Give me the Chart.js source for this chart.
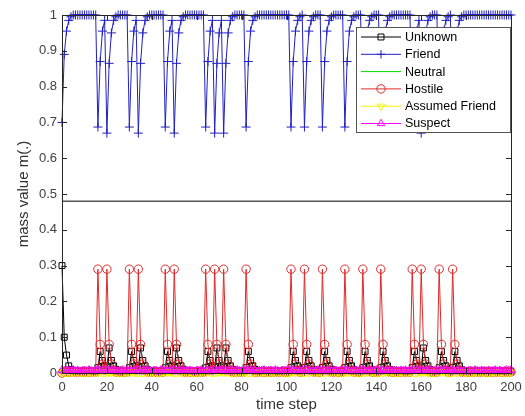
<!DOCTYPE html>
<html>
<head>
<meta charset="utf-8">
<script src="https://cdn.jsdelivr.net/npm/chart.js@4.4.0/dist/chart.umd.min.js"></script>
<style>
  html, body { margin: 0; padding: 0; background: #fff; }
  #wrap { width: 525px; height: 416px; }
</style>
</head>
<body>
<div id="wrap"><canvas id="chart" width="525" height="416"></canvas></div>
<script>
// time steps 0..200
const timeSteps = Array.from({ length: 201 }, (_, i) => i);

const unknown = [
  0.3, 0.1, 0.05, 0.02, 0.01, 0.005, 0.005, 0.005, 0.005, 0.005,
  0.005, 0.005, 0.005, 0.005, 0.005, 0.005, 0.015, 0.06, 0.035, 0.02,
  0.015, 0.07, 0.035, 0.02, 0.01, 0.005, 0.005, 0.005, 0.005, 0.005,
  0.015, 0.06, 0.035, 0.02, 0.015, 0.07, 0.035, 0.02, 0.01, 0.005,
  0.005, 0.005, 0.005, 0.005, 0.005, 0.005, 0.015, 0.06, 0.035, 0.02,
  0.015, 0.07, 0.035, 0.02, 0.01, 0.005, 0.005, 0.005, 0.005, 0.005,
  0.005, 0.005, 0.005, 0.005, 0.015, 0.06, 0.035, 0.02, 0.015, 0.07,
  0.035, 0.02, 0.015, 0.07, 0.035, 0.02, 0.01, 0.005, 0.005, 0.005,
  0.005, 0.005, 0.015, 0.06, 0.035, 0.02, 0.01, 0.005, 0.005, 0.005,
  0.005, 0.005, 0.005, 0.005, 0.005, 0.005, 0.005, 0.005, 0.005, 0.005,
  0.005, 0.005, 0.015, 0.06, 0.035, 0.02, 0.01, 0.005, 0.015, 0.06,
  0.035, 0.02, 0.01, 0.005, 0.005, 0.005, 0.015, 0.06, 0.035, 0.02,
  0.01, 0.005, 0.005, 0.005, 0.005, 0.005, 0.015, 0.06, 0.035, 0.02,
  0.01, 0.005, 0.005, 0.005, 0.015, 0.06, 0.035, 0.02, 0.01, 0.005,
  0.005, 0.005, 0.015, 0.06, 0.035, 0.02, 0.01, 0.005, 0.005, 0.005,
  0.005, 0.005, 0.005, 0.005, 0.005, 0.005, 0.015, 0.06, 0.035, 0.02,
  0.015, 0.07, 0.035, 0.02, 0.01, 0.005, 0.005, 0.005, 0.015, 0.06,
  0.035, 0.02, 0.01, 0.005, 0.015, 0.06, 0.035, 0.02, 0.01, 0.005,
  0.005, 0.005, 0.005, 0.005, 0.005, 0.005, 0.005, 0.005, 0.005, 0.005,
  0.005, 0.005, 0.005, 0.005, 0.005, 0.005, 0.005, 0.005, 0.005, 0.005,
  0.005
];

const friend = [
  0.70, 0.89, 0.955, 0.985, 0.995, 1, 1, 1, 1, 1,
  1, 1, 1, 1, 1, 1, 0.687, 0.87, 0.955, 0.985,
  0.67, 0.865, 0.95, 0.985, 0.995, 1, 1, 1, 1, 1,
  0.687, 0.87, 0.955, 0.985, 0.67, 0.865, 0.95, 0.985, 0.995, 1,
  1, 1, 1, 1, 1, 1, 0.687, 0.87, 0.955, 0.985,
  0.67, 0.865, 0.95, 0.985, 0.995, 1, 1, 1, 1, 1,
  1, 1, 1, 1, 0.687, 0.87, 0.955, 0.985, 0.67, 0.865,
  0.95, 0.985, 0.67, 0.865, 0.95, 0.985, 0.995, 1, 1, 1,
  1, 1, 0.687, 0.87, 0.955, 0.985, 0.995, 1, 1, 1,
  1, 1, 1, 1, 1, 1, 1, 1, 1, 1,
  1, 1, 0.687, 0.87, 0.955, 0.985, 0.995, 1, 0.687, 0.87,
  0.955, 0.985, 0.995, 1, 1, 1, 0.687, 0.87, 0.955, 0.985,
  0.995, 1, 1, 1, 1, 1, 0.687, 0.87, 0.955, 0.985,
  0.995, 1, 1, 1, 0.687, 0.87, 0.955, 0.985, 0.995, 1,
  1, 1, 0.687, 0.87, 0.955, 0.985, 0.995, 1, 1, 1,
  1, 1, 1, 1, 1, 1, 0.687, 0.87, 0.955, 0.985,
  0.67, 0.865, 0.95, 0.985, 0.995, 1, 1, 1, 0.687, 0.87,
  0.955, 0.985, 0.995, 1, 0.687, 0.87, 0.955, 0.985, 0.995, 1,
  1, 1, 1, 1, 1, 1, 1, 1, 1, 1,
  1, 1, 1, 1, 1, 1, 1, 1, 1, 1,
  1
];

const neutral = [
  0, 0, 0, 0, 0, 0, 0, 0, 0, 0,  0, 0, 0, 0, 0, 0, 0, 0, 0, 0,
  0, 0, 0, 0, 0, 0, 0, 0, 0, 0,  0, 0, 0, 0, 0, 0, 0, 0, 0, 0,
  0, 0, 0, 0, 0, 0, 0, 0, 0, 0,  0, 0, 0, 0, 0, 0, 0, 0, 0, 0,
  0, 0, 0, 0, 0, 0, 0, 0, 0, 0,  0, 0, 0, 0, 0, 0, 0, 0, 0, 0,
  0, 0, 0, 0, 0, 0, 0, 0, 0, 0,  0, 0, 0, 0, 0, 0, 0, 0, 0, 0,
  0, 0, 0, 0, 0, 0, 0, 0, 0, 0,  0, 0, 0, 0, 0, 0, 0, 0, 0, 0,
  0, 0, 0, 0, 0, 0, 0, 0, 0, 0,  0, 0, 0, 0, 0, 0, 0, 0, 0, 0,
  0, 0, 0, 0, 0, 0, 0, 0, 0, 0,  0, 0, 0, 0, 0, 0, 0, 0, 0, 0,
  0, 0, 0, 0, 0, 0, 0, 0, 0, 0,  0, 0, 0, 0, 0, 0, 0, 0, 0, 0,
  0, 0, 0, 0, 0, 0, 0, 0, 0, 0,  0, 0, 0, 0, 0, 0, 0, 0, 0, 0,
  0
];

const hostile = [
  0, 0.003, 0.003, 0.003, 0.003, 0.003, 0.003, 0.003, 0.003, 0.003,
  0.003, 0.003, 0.003, 0.003, 0.003, 0.003, 0.29, 0.08, 0.025, 0.008,
  0.29, 0.08, 0.025, 0.008, 0.003, 0.003, 0.003, 0.003, 0.003, 0.003,
  0.29, 0.08, 0.025, 0.008, 0.29, 0.08, 0.025, 0.008, 0.003, 0.003,
  0.003, 0.003, 0.003, 0.003, 0.003, 0.003, 0.29, 0.08, 0.025, 0.008,
  0.29, 0.08, 0.025, 0.008, 0.003, 0.003, 0.003, 0.003, 0.003, 0.003,
  0.003, 0.003, 0.003, 0.003, 0.29, 0.08, 0.025, 0.008, 0.29, 0.08,
  0.025, 0.008, 0.29, 0.08, 0.025, 0.008, 0.003, 0.003, 0.003, 0.003,
  0.003, 0.003, 0.29, 0.08, 0.025, 0.008, 0.003, 0.003, 0.003, 0.003,
  0.003, 0.003, 0.003, 0.003, 0.003, 0.003, 0.003, 0.003, 0.003, 0.003,
  0.003, 0.003, 0.29, 0.08, 0.025, 0.008, 0.003, 0.003, 0.29, 0.08,
  0.025, 0.008, 0.003, 0.003, 0.003, 0.003, 0.29, 0.08, 0.025, 0.008,
  0.003, 0.003, 0.003, 0.003, 0.003, 0.003, 0.29, 0.08, 0.025, 0.008,
  0.003, 0.003, 0.003, 0.003, 0.29, 0.08, 0.025, 0.008, 0.003, 0.003,
  0.003, 0.003, 0.29, 0.08, 0.025, 0.008, 0.003, 0.003, 0.003, 0.003,
  0.003, 0.003, 0.003, 0.003, 0.003, 0.003, 0.29, 0.08, 0.025, 0.008,
  0.29, 0.08, 0.025, 0.008, 0.003, 0.003, 0.003, 0.003, 0.29, 0.08,
  0.025, 0.008, 0.003, 0.003, 0.29, 0.08, 0.025, 0.008, 0.003, 0.003,
  0.003, 0.003, 0.003, 0.003, 0.003, 0.003, 0.003, 0.003, 0.003, 0.003,
  0.003, 0.003, 0.003, 0.003, 0.003, 0.003, 0.003, 0.003, 0.003, 0.003,
  0.003
];

const assumedFriend = [
  0.001, 0.002, 0.001, 0.003, 0.002, 0.001, 0.002, 0.003, 0.001, 0.002,
  0.002, 0.001, 0.003, 0.002, 0.001, 0.002, 0.001, 0.003, 0.002, 0.001,
  0.003, 0.002, 0.001, 0.002, 0.003, 0.001, 0.002, 0.001, 0.003, 0.002,
  0.001, 0.003, 0.002, 0.001, 0.002, 0.003, 0.001, 0.002, 0.002, 0.001,
  0.002, 0.001, 0.003, 0.001, 0.002, 0.003, 0.002, 0.001, 0.003, 0.002,
  0.001, 0.002, 0.003, 0.002, 0.001, 0.002, 0.001, 0.003, 0.002, 0.001,
  0.003, 0.001, 0.002, 0.002, 0.001, 0.003, 0.002, 0.001, 0.002, 0.003,
  0.002, 0.003, 0.001, 0.002, 0.003, 0.001, 0.002, 0.002, 0.001, 0.003,
  0.001, 0.002, 0.003, 0.001, 0.002, 0.001, 0.003, 0.002, 0.001, 0.002,
  0.003, 0.002, 0.001, 0.003, 0.002, 0.001, 0.002, 0.003, 0.001, 0.002,
  0.002, 0.001, 0.002, 0.003, 0.001, 0.002, 0.003, 0.002, 0.001, 0.003,
  0.001, 0.003, 0.002, 0.001, 0.002, 0.003, 0.001, 0.002, 0.003, 0.001,
  0.002, 0.002, 0.001, 0.003, 0.002, 0.001, 0.003, 0.002, 0.001, 0.002,
  0.003, 0.001, 0.002, 0.002, 0.003, 0.001, 0.002, 0.001, 0.003, 0.002,
  0.001, 0.002, 0.003, 0.001, 0.002, 0.002, 0.001, 0.003, 0.002, 0.001,
  0.002, 0.003, 0.001, 0.002, 0.001, 0.003, 0.002, 0.001, 0.002, 0.003,
  0.001, 0.002, 0.002, 0.003, 0.001, 0.002, 0.001, 0.003, 0.002, 0.002,
  0.003, 0.001, 0.002, 0.001, 0.003, 0.002, 0.001, 0.002, 0.003, 0.001,
  0.002, 0.003, 0.001, 0.002, 0.002, 0.001, 0.003, 0.002, 0.001, 0.003,
  0.001, 0.002, 0.003, 0.002, 0.001, 0.002, 0.003, 0.001, 0.002, 0.001,
  0.002
];

const suspect = [
  0.008, 0.006, 0.007, 0.005, 0.006, 0.008, 0.005, 0.007, 0.004, 0.006,
  0.007, 0.005, 0.008, 0.006, 0.004, 0.007, 0.009, 0.006, 0.005, 0.007,
  0.006, 0.008, 0.005, 0.007, 0.006, 0.004, 0.007, 0.008, 0.005, 0.006,
  0.007, 0.005, 0.006, 0.008, 0.007, 0.005, 0.004, 0.006, 0.008, 0.006,
  0.005, 0.007, 0.006, 0.004, 0.008, 0.006, 0.007, 0.005, 0.006, 0.008,
  0.006, 0.004, 0.007, 0.006, 0.005, 0.008, 0.006, 0.007, 0.005, 0.004,
  0.007, 0.006, 0.008, 0.005, 0.006, 0.007, 0.004, 0.006, 0.008, 0.005,
  0.006, 0.008, 0.005, 0.007, 0.004, 0.006, 0.007, 0.005, 0.008, 0.006,
  0.005, 0.007, 0.006, 0.008, 0.006, 0.005, 0.007, 0.004, 0.006, 0.007,
  0.008, 0.005, 0.006, 0.007, 0.005, 0.008, 0.006, 0.004, 0.007, 0.006,
  0.006, 0.007, 0.005, 0.008, 0.006, 0.004, 0.007, 0.006, 0.005, 0.008,
  0.007, 0.004, 0.006, 0.007, 0.008, 0.005, 0.006, 0.007, 0.004, 0.006,
  0.005, 0.008, 0.007, 0.005, 0.006, 0.007, 0.005, 0.008, 0.006, 0.004,
  0.006, 0.007, 0.005, 0.006, 0.008, 0.006, 0.004, 0.007, 0.005, 0.007,
  0.008, 0.006, 0.004, 0.007, 0.005, 0.006, 0.008, 0.005, 0.007, 0.006,
  0.005, 0.007, 0.006, 0.008, 0.004, 0.007, 0.006, 0.005, 0.008, 0.006,
  0.007, 0.005, 0.008, 0.006, 0.007, 0.005, 0.006, 0.004, 0.007, 0.008,
  0.006, 0.008, 0.005, 0.007, 0.006, 0.004, 0.007, 0.006, 0.005, 0.007,
  0.004, 0.006, 0.007, 0.005, 0.008, 0.006, 0.005, 0.007, 0.006, 0.005,
  0.007, 0.005, 0.006, 0.008, 0.005, 0.007, 0.004, 0.006, 0.008, 0.006,
  0.008
];

// the flat black line across the plot
const refLineSteps = [0, 200];
const refLine = [0.48, 0.48];

const xTicks = [0, 20, 40, 60, 80, 100, 120, 140, 160, 180, 200];
const yTicks = [0, 0.1, 0.2, 0.3, 0.4, 0.5, 0.6, 0.7, 0.8, 0.9, 1];

const FONT = '"Liberation Sans", Arial, Helvetica, sans-serif';

function toPoints(xs, ys) {
    return ys.map((v, i) => ({ x: xs[i], y: v }));
}

const series = [
    { label: 'Unknown', data: unknown, color: '#000000', marker: 'rect', radius: 4.2, rotation: 0, order: 6 },
    { label: 'Friend', data: friend, color: '#2020c4', marker: 'cross', radius: 4.5, rotation: 0, order: 5 },
    { label: 'Neutral', data: neutral, color: '#00dd00', marker: false, radius: 0, rotation: 0, order: 4 },
    { label: 'Hostile', data: hostile, color: '#e02a2a', marker: 'circle', radius: 4.2, rotation: 0, order: 3 },
    { label: 'Assumed Friend', data: assumedFriend, color: '#f2f200', marker: 'triangle', radius: 4.5, rotation: 180, order: 2 },
    { label: 'Suspect', data: suspect, color: '#ff00ff', marker: 'triangle', radius: 4.5, rotation: 0, order: 1 },
];

const datasets = series.map((s) => ({
    label: s.label,
    data: toPoints(timeSteps, s.data),
    borderColor: s.color,
    borderWidth: 1,
    backgroundColor: 'rgba(0,0,0,0)',
    pointStyle: s.marker,
    pointRadius: s.radius,
    pointRotation: s.rotation,
    pointBorderColor: s.color,
    pointBackgroundColor: 'rgba(0,0,0,0)',
    pointBorderWidth: 1,
    tension: 0,
    clip: false,
    order: s.order,
}));

datasets.push({
    label: '_ref',
    data: toPoints(refLineSteps, refLine),
    borderColor: '#000000',
    borderWidth: 1,
    pointRadius: 0,
    clip: false,
    order: 7,
});

// matlab-like box, inward ticks and legend inside the axes
const boxPlugin = {
    id: 'matlabBox',
    afterDraw(chart) {
        const { ctx, chartArea: a, scales } = chart;
        const tl = 5;
        ctx.save();
        ctx.strokeStyle = '#262626';
        ctx.lineWidth = 1;
        ctx.beginPath();
        ctx.rect(Math.round(a.left) + 0.5, Math.round(a.top) + 0.5,
                 Math.round(a.right - a.left), Math.round(a.bottom - a.top));
        ctx.stroke();

        ctx.beginPath();
        xTicks.forEach((v) => {
            const x = Math.round(scales.x.getPixelForValue(v)) + 0.5;
            ctx.moveTo(x, a.bottom); ctx.lineTo(x, a.bottom - tl);
            ctx.moveTo(x, a.top); ctx.lineTo(x, a.top + tl);
        });
        yTicks.forEach((v) => {
            const y = Math.round(scales.y.getPixelForValue(v)) + 0.5;
            ctx.moveTo(a.left, y); ctx.lineTo(a.left + tl, y);
            ctx.moveTo(a.right, y); ctx.lineTo(a.right - tl, y);
        });
        ctx.stroke();

        // legend
        const lx = 356, ly = 27, lw = 154, lh = 105;
        ctx.fillStyle = '#ffffff';
        ctx.fillRect(lx, ly, lw, lh);
        ctx.strokeStyle = '#555555';
        ctx.strokeRect(lx + 0.5, ly + 0.5, lw, lh);
        ctx.font = '12.5px ' + FONT;
        ctx.textBaseline = 'middle';
        ctx.textAlign = 'left';
        series.forEach((s, i) => {
            const y = ly + 10 + i * 17.3;
            const x0 = lx + 5, x1 = lx + 45, xm = (x0 + x1) / 2;
            const r = Math.min(s.radius, 4.2);
            ctx.strokeStyle = s.color;
            ctx.lineWidth = 1;
            ctx.beginPath();
            ctx.moveTo(x0, y); ctx.lineTo(x1, y);
            ctx.stroke();
            ctx.beginPath();
            if (s.marker === 'rect') {
                const h = r * Math.SQRT1_2;
                ctx.rect(xm - h, y - h, 2 * h, 2 * h);
            } else if (s.marker === 'cross') {
                ctx.moveTo(xm - r, y); ctx.lineTo(xm + r, y);
                ctx.moveTo(xm, y - r); ctx.lineTo(xm, y + r);
            } else if (s.marker === 'circle') {
                ctx.arc(xm, y, r, 0, Math.PI * 2);
            } else if (s.marker === 'triangle') {
                const d = s.rotation ? -1 : 1;
                ctx.moveTo(xm, y - d * r);
                ctx.lineTo(xm - r * 0.87, y + d * r * 0.5);
                ctx.lineTo(xm + r * 0.87, y + d * r * 0.5);
                ctx.closePath();
            }
            ctx.stroke();
            ctx.fillStyle = '#000000';
            ctx.fillText(s.label, lx + 49, y + 0.5);
        });
        ctx.restore();
    },
};

const ctx = document.getElementById('chart').getContext('2d');

new Chart(ctx, {
    type: 'line',
    data: { datasets },
    options: {
        responsive: false,
        animation: false,
        layout: { padding: { top: 15, right: 14, left: 0, bottom: 0 } },
        plugins: {
            legend: { display: false },
            tooltip: { enabled: false },
        },
        scales: {
            x: {
                type: 'linear',
                min: 0,
                max: 200,
                afterBuildTicks: (scale) => { scale.ticks = xTicks.map((v) => ({ value: v })); },
                afterFit: (scale) => {
                    scale.height = 43;
                    scale.paddingLeft = 0;
                    scale.paddingRight = 0;
                },
                grid: { display: false, drawTicks: false },
                border: { display: false },
                ticks: { padding: 7, color: '#404040', font: { family: FONT, size: 13 }, maxRotation: 0 },
                title: {
                    display: true,
                    text: 'time step',
                    color: '#333333',
                    font: { family: FONT, size: 15 },
                    padding: { top: 0, bottom: 2 },
                },
            },
            y: {
                type: 'linear',
                min: 0,
                max: 1,
                afterBuildTicks: (scale) => { scale.ticks = yTicks.map((v) => ({ value: v })); },
                afterFit: (scale) => {
                    scale.width = 62;
                    scale.paddingTop = 0;
                    scale.paddingBottom = 0;
                },
                grid: { display: false, drawTicks: false },
                border: { display: false },
                ticks: {
                    padding: 5,
                    color: '#404040',
                    font: { family: FONT, size: 13 },
                    callback: (v) => String(+v.toFixed(1)),
                },
                title: {
                    display: true,
                    text: 'mass value m(.)',
                    color: '#333333',
                    font: { family: FONT, size: 15 },
                    padding: { top: 15, bottom: 0 },
                },
            },
        },
    },
    plugins: [boxPlugin],
});
</script>
</body>
</html>
